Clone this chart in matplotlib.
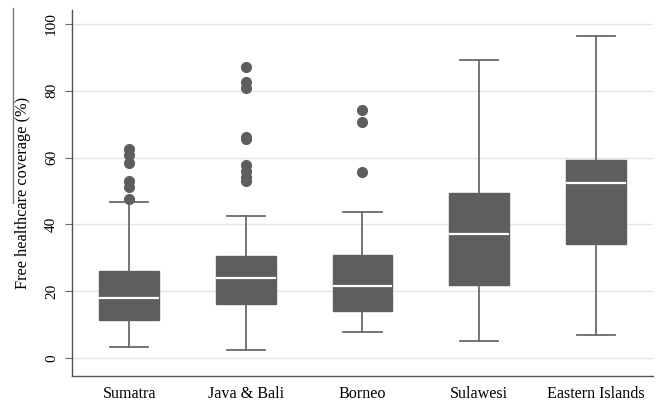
import matplotlib
matplotlib.use("Agg")
import matplotlib.pyplot as plt
from matplotlib.lines import Line2D

plt.rcParams["font.family"] = ["Liberation Serif", "DejaVu Serif"]

REGIONS = ["Sumatra", "Java & Bali", "Borneo", "Sulawesi", "Eastern Islands"]
MEDIAN = [18.1, 24.0, 21.6, 37.1, 52.5]
Q1 = [11.3, 16.1, 14.2, 21.9, 34.0]
Q3 = [26.0, 30.6, 30.9, 49.3, 59.2]
WHISK_LO = [3.3, 2.3, 7.8, 5.2, 6.9]
WHISK_HI = [46.7, 42.4, 43.7, 89.1, 96.4]
OUTLIERS = [
    [47.5, 51.3, 53.1, 58.5, 60.8, 62.5],
    [53.1, 54.3, 56.0, 57.8, 65.6, 66.3, 80.7, 82.6, 87.0],
    [55.8, 70.6, 74.3],
    [],
    [],
]
YTICKS = [0, 20, 40, 60, 80, 100]

BOX_COLOR = "#5e5e5e"
LINE_COLOR = "#6a6a6a"

fig = plt.figure(figsize=(6.6, 4.01), dpi=100)
ax = fig.add_axes([72 / 660, 25 / 401, 581 / 660, 366 / 401])

stats = []
for i, name in enumerate(REGIONS):
    stats.append({
        "label": name,
        "med": MEDIAN[i],
        "q1": Q1[i],
        "q3": Q3[i],
        "whislo": WHISK_LO[i],
        "whishi": WHISK_HI[i],
        "fliers": OUTLIERS[i],
    })

ax.bxp(
    stats,
    positions=range(len(REGIONS)),
    widths=0.51,
    patch_artist=True,
    showfliers=True,
    boxprops={"facecolor": BOX_COLOR, "edgecolor": BOX_COLOR, "linewidth": 1.0},
    medianprops={"color": "white", "linewidth": 1.6},
    whiskerprops={"color": LINE_COLOR, "linewidth": 1.3},
    capprops={"color": LINE_COLOR, "linewidth": 1.3},
    capwidths=0.33,
    flierprops={"marker": "o", "markerfacecolor": BOX_COLOR, "markeredgecolor": BOX_COLOR,
                "markersize": 7},
)

ax.set_xlim(-0.49, 4.49)
ax.set_ylim(-5.4, 104.2)
ax.set_yticks(YTICKS)
ax.set_yticklabels([str(t) for t in YTICKS], rotation=90, va="center", fontsize=11)
ax.set_xticks(range(len(REGIONS)))
ax.set_xticklabels(REGIONS, fontsize=11.6)
ax.tick_params(axis="x", length=0, pad=7)
ax.tick_params(axis="y", length=5, color=LINE_COLOR, pad=5)
ax.grid(axis="y", color="#e4e4e4", linewidth=1.0)
ax.set_axisbelow(True)
for side in ["top", "right"]:
    ax.spines[side].set_visible(False)
for side in ["left", "bottom"]:
    ax.spines[side].set_color("#555555")
    ax.spines[side].set_linewidth(1.0)
ax.set_ylabel("Free healthcare coverage (%)", fontsize=11.8, labelpad=10)

# stray rule at the left edge of the original image
fig.add_artist(Line2D([13 / 660, 13 / 660], [1 - 8 / 401, 1 - 203 / 401],
                      color="#777777", linewidth=1.0, transform=fig.transFigure))

fig.savefig("out.png", dpi=100)
